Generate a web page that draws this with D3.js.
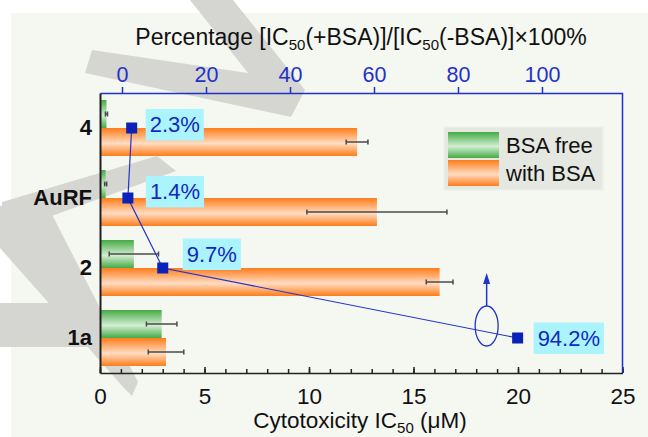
<!DOCTYPE html>
<html>
<head>
<meta charset="utf-8">
<script src="https://cdn.jsdelivr.net/npm/d3@7"></script>
<style>
  html, body { margin: 0; padding: 0; background: #ffffff; }
  svg { display: block; font-family: "Liberation Sans", Arial, sans-serif; }
</style>
</head>
<body>
<svg id="chart" width="648" height="437"></svg>
<script>
// ---------------- data ----------------
const categories = ["4", "AuRF", "2", "1a"];
const bsaFree    = [0.31, 0.27, 1.62, 2.95];
const bsaFreeErr = [0.05, 0.05, 1.18, 0.73];
const withBsa    = [12.3, 13.25, 16.25, 3.16];
const withBsaErr = [0.52, 3.35, 0.64, 0.85];
const percentage = [2.3, 1.4, 9.7, 94.2];
const xTicks     = [0, 5, 10, 15, 20, 25];
const xMinorTicks = d3.range(0, 26, 1);
const topTicks   = [0, 20, 40, 60, 80, 100];
const seriesNames = ["BSA free", "with BSA"];

// ---------------- layout ----------------
const W = 648, H = 437;
const plot = { left: 100, right: 622.5, top: 93, bottom: 373 };
const blue = "#1f31c8";
const axisDark = "#222222";

const svg = d3.select("#chart");

const x = d3.scaleLinear().domain([0, 25]).range([plot.left, plot.right]);
const xTop = d3.scaleLinear().domain([-5.24, 119.17]).range([plot.left, plot.right]);
const y = d3.scaleBand().domain(categories).range([plot.top, plot.bottom]).padding(0);
const ySub = d3.scaleBand().domain(["free", "bsa"]).range([0, y.bandwidth()])
  .paddingInner(0).paddingOuter(0.25);

// gradients
const defs = svg.append("defs");
function grad(id, edge, mid) {
  const g = defs.append("linearGradient").attr("id", id)
    .attr("x1", 0).attr("y1", 0).attr("x2", 0).attr("y2", 1);
  g.append("stop").attr("offset", "0%").attr("stop-color", edge);
  g.append("stop").attr("offset", "55%").attr("stop-color", mid);
  g.append("stop").attr("offset", "100%").attr("stop-color", edge);
}
grad("gGreen", "#45aa45", "#d3eed3");
grad("gOrange", "#ff7d1a", "#ffdcc2");

// background panel
svg.append("rect").attr("x", 11).attr("y", 13).attr("width", W - 11).attr("height", H - 13)
  .attr("fill", "#f5f7f1");

// watermark (decorative)
const wm = svg.append("g").attr("fill", "#d5d6d2");
const wmShapes = [
  [[190,0],[233,0],[305,90],[291,117],[85,73],[92,50],[248,73]],
  [[2,202],[157,156],[176,171],[24,226],[2,232]],
  [[0,206],[44,199],[138,382],[132,396],[124,388],[0,248]],
  [[0,303],[92,303],[108,347],[0,347]]
];
wmShapes.forEach(p => wm.append("polygon").attr("points", p.map(d => d.join(",")).join(" ")));

// ---------------- bars ----------------
const barG = svg.append("g");
categories.forEach((c, i) => {
  barG.append("rect")
    .attr("x", x(0)).attr("y", y(c) + ySub("free"))
    .attr("width", x(bsaFree[i]) - x(0)).attr("height", ySub.bandwidth())
    .attr("fill", "url(#gGreen)");
  barG.append("rect")
    .attr("x", x(0)).attr("y", y(c) + ySub("bsa"))
    .attr("width", x(withBsa[i]) - x(0)).attr("height", ySub.bandwidth())
    .attr("fill", "url(#gOrange)");
});

// error bars
const errG = svg.append("g").attr("stroke", "#4a4a4a").attr("stroke-width", 1.5).attr("fill", "none");
function errBar(v, e, cy) {
  const x0 = x(v - e), x1 = x(v + e);
  errG.append("line").attr("x1", x0).attr("x2", x1).attr("y1", cy).attr("y2", cy);
  errG.append("line").attr("x1", x0).attr("x2", x0).attr("y1", cy - 2.5).attr("y2", cy + 2.5);
  errG.append("line").attr("x1", x1).attr("x2", x1).attr("y1", cy - 2.5).attr("y2", cy + 2.5);
}
categories.forEach((c, i) => {
  errBar(bsaFree[i], bsaFreeErr[i], y(c) + ySub("free") + ySub.bandwidth() / 2);
  errBar(withBsa[i], withBsaErr[i], y(c) + ySub("bsa") + ySub.bandwidth() / 2);
});

// ---------------- axes ----------------
// bottom major
const gB = svg.append("g").attr("transform", `translate(0,${plot.bottom})`)
  .call(d3.axisBottom(x).tickValues(xTicks).tickSize(-6).tickSizeOuter(0).tickPadding(15));
gB.select(".domain").attr("stroke", axisDark).attr("stroke-width", 1.5);
gB.selectAll(".tick line").attr("stroke", axisDark).attr("stroke-width", 1.5);
gB.selectAll(".tick text").attr("font-size", 22.5).attr("fill", "#111").attr("font-family", "Liberation Sans, Arial, sans-serif");
// bottom minor
const gBm = svg.append("g").attr("transform", `translate(0,${plot.bottom})`)
  .call(d3.axisBottom(x).tickValues(xMinorTicks).tickSize(-4).tickSizeOuter(0).tickFormat(""));
gBm.select(".domain").remove();
gBm.selectAll(".tick line").attr("stroke", axisDark).attr("stroke-width", 1.5);

// top axis
const gT = svg.append("g").attr("transform", `translate(0,${plot.top})`)
  .call(d3.axisTop(xTop).tickValues(topTicks).tickSize(6).tickSizeOuter(0).tickPadding(5));
gT.select(".domain").attr("stroke", blue).attr("stroke-width", 1.5);
gT.selectAll(".tick line").attr("stroke", blue).attr("stroke-width", 1.5);
gT.selectAll(".tick text").attr("font-size", 21.5).attr("fill", blue).attr("font-family", "Liberation Sans, Arial, sans-serif");

// right axis line
svg.append("line").attr("x1", plot.right).attr("x2", plot.right)
  .attr("y1", plot.top).attr("y2", plot.bottom).attr("stroke", blue).attr("stroke-width", 1.5);

// left axis
const gL = svg.append("g").attr("transform", `translate(${plot.left},0)`)
  .call(d3.axisLeft(y).tickSize(0).tickSizeOuter(0).tickPadding(8));
gL.select(".domain").attr("stroke", axisDark).attr("stroke-width", 2);
gL.selectAll(".tick text").attr("font-size", 22).attr("font-weight", "bold").attr("fill", "#111")
  .attr("font-family", "Liberation Sans, Arial, sans-serif");

// axis titles
const topTitle = svg.append("text").attr("x", 361).attr("y", 45).attr("text-anchor", "middle")
  .attr("font-size", 23).attr("fill", "#111");
topTitle.append("tspan").text("Percentage [IC");
topTitle.append("tspan").attr("font-size", 15).attr("dy", 5).text("50");
topTitle.append("tspan").attr("dy", -5).text("(+BSA)]/[IC");
topTitle.append("tspan").attr("font-size", 15).attr("dy", 5).text("50");
topTitle.append("tspan").attr("dy", -5).text("(-BSA)]×100%");

const botTitle = svg.append("text").attr("x", 360).attr("y", 428).attr("text-anchor", "middle")
  .attr("font-size", 22.5).attr("fill", "#111");
botTitle.append("tspan").text("Cytotoxicity IC");
botTitle.append("tspan").attr("font-size", 15).attr("dy", 5).text("50");
botTitle.append("tspan").attr("dy", -5).text(" (μM)");

// ---------------- percentage line ----------------
const pts = categories.map((c, i) => [xTop(percentage[i]), y(c) + y.bandwidth() / 2]);
svg.append("path").attr("d", d3.line()(pts)).attr("fill", "none")
  .attr("stroke", "#2233d0").attr("stroke-width", 1.2);

// ellipse + arrow annotation (on segment 2 -> 1a)
const eCx = x(18.5), eCy = y("1a") + y.bandwidth() / 2 - 12, eRx = 11.5, eRy = 20;
svg.append("ellipse").attr("cx", eCx).attr("cy", eCy).attr("rx", eRx).attr("ry", eRy)
  .attr("fill", "none").attr("stroke", "#2233d0").attr("stroke-width", 1.3);
svg.append("line").attr("x1", eCx).attr("x2", eCx).attr("y1", eCy - eRy).attr("y2", eCy - eRy - 24)
  .attr("stroke", "#2233d0").attr("stroke-width", 1.5);
svg.append("path")
  .attr("d", `M${eCx},${eCy - eRy - 33} L${eCx - 3.5},${eCy - eRy - 22} L${eCx + 3.5},${eCy - eRy - 22} Z`)
  .attr("fill", "#2233d0");

// markers
svg.selectAll("rect.mk").data(pts).enter().append("rect").attr("class", "mk")
  .attr("x", d => d[0] - 5.5).attr("y", d => d[1] - 5.5)
  .attr("width", 11).attr("height", 11).attr("fill", "#0a22b8");

// labels
const labelOffsets = [[14, -3.5], [18, -6.5], [20, -14], [16, 0]];
pts.forEach((p, i) => {
  const lx = p[0] + labelOffsets[i][0], ly = p[1] + labelOffsets[i][1];
  const g = svg.append("g");
  const bg = g.append("rect").attr("fill", "#abf4fe");
  const t = g.append("text").attr("x", lx + 4).attr("y", ly).attr("dy", "0.36em")
    .attr("font-size", 22).attr("fill", "#1228c0").text(percentage[i] + "%");
  const w = t.node().getComputedTextLength();
  bg.attr("x", lx).attr("y", ly - 15.5).attr("width", w + 8).attr("height", 31.5);
});

// ---------------- legend ----------------
const lg = svg.append("g");
lg.append("rect").attr("x", 444).attr("y", 127).attr("width", 159).attr("height", 63)
  .attr("fill", "#e5e7e1").attr("stroke", "#eef0ea").attr("stroke-width", 1.5);
const swatchFills = ["url(#gGreen)", "url(#gOrange)"];
seriesNames.forEach((n, i) => {
  lg.append("rect").attr("x", 448).attr("y", 132 + i * 28).attr("width", 51).attr("height", 26)
    .attr("fill", swatchFills[i]);
  lg.append("text").attr("x", 506).attr("y", 145 + i * 28).attr("dy", "0.36em")
    .attr("font-size", 22).attr("fill", "#111").text(n);
});
</script>
</body>
</html>
